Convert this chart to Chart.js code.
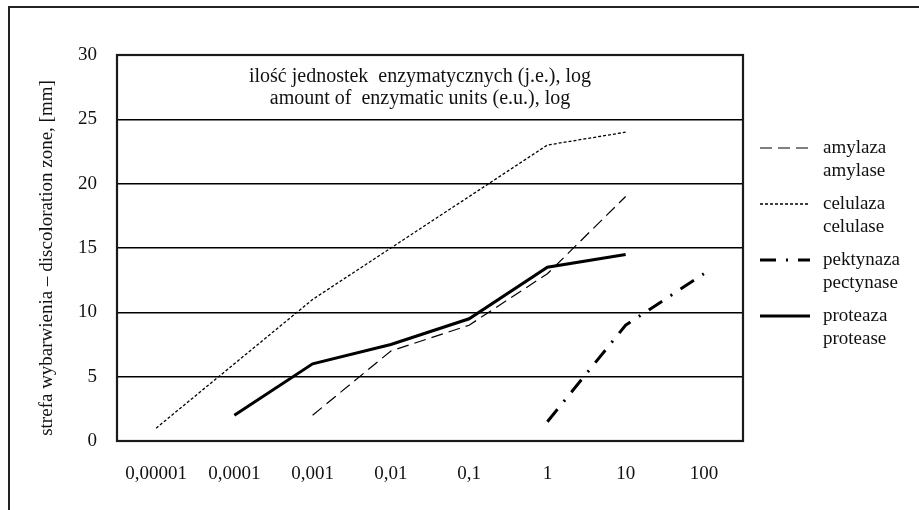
<!DOCTYPE html>
<html>
<head>
<meta charset="utf-8">
<script src="https://cdn.jsdelivr.net/npm/chart.js@4/dist/chart.umd.min.js"></script>
<style>
  html, body { margin: 0; padding: 0; background: #fff; }
  #wrap { width: 919px; height: 510px; position: relative; }
</style>
</head>
<body>
<div id="wrap"><canvas id="c" width="919" height="510"></canvas></div>
<script>
// Enzyme units (log scale shown as categories)
const categories = ['0,00001', '0,0001', '0,001', '0,01', '0,1', '1', '10', '100'];

// Discoloration zone [mm] per enzyme
const amylaza    = [null, null, 2, 7, 9, 13, 19, null];
const celulaza   = [1, 6, 11, 15, 19, 23, 24, null];
const pektynaza  = [null, null, null, null, null, 1.5, 9, 13];
const proteaza   = [null, 2, 6, 7.5, 9.5, 13.5, 14.5, null];

const yTicks = [0, 5, 10, 15, 20, 25, 30];

const legendLines = [
  ['amylaza', 'amylase'],
  ['celulaza', 'celulase'],
  ['pektynaza', 'pectynase'],
  ['proteaza', 'protease']
];
const titleLines = [
  'ilość jednostek  enzymatycznych (j.e.), log',
  'amount of  enzymatic units (e.u.), log'
];
const yTitle = 'strefa wybarwienia – discoloration zone, [mm]';

const FONT = '"Liberation Serif", "Times New Roman", serif';

const decor = {
  id: 'decor',
  beforeDraw(chart) {
    const ctx = chart.ctx;
    ctx.save();
    ctx.fillStyle = '#fff';
    ctx.fillRect(0, 0, chart.width, chart.height);
    // outer frame (top and left edges visible)
    ctx.strokeStyle = '#222';
    ctx.lineWidth = 2;
    ctx.beginPath();
    ctx.moveTo(9, 960);
    ctx.lineTo(9, 7);
    ctx.lineTo(960, 7);
    ctx.stroke();
    ctx.restore();
  },
  afterDatasetsDraw(chart) {
    const ctx = chart.ctx;
    const a = chart.chartArea;
    ctx.save();
    // plot frame
    ctx.strokeStyle = '#1a1a1a';
    ctx.lineWidth = 2.2;
    ctx.strokeRect(a.left, a.top, a.right - a.left, a.bottom - a.top);

    // inner title
    ctx.fillStyle = '#111';
    ctx.font = '20px ' + FONT;
    ctx.textAlign = 'center';
    ctx.textBaseline = 'middle';
    ctx.fillText(titleLines[0], 420, 77);
    ctx.fillText(titleLines[1], 420, 99);

    // y axis title
    ctx.font = '19px ' + FONT;
    ctx.save();
    ctx.translate(47, 258);
    ctx.rotate(-Math.PI / 2);
    ctx.fillText(yTitle, 0, 0);
    ctx.restore();

    // legend
    const rows = [148, 204, 260, 316];
    chart.data.datasets.forEach((ds, i) => {
      const y = rows[i];
      ctx.strokeStyle = ds.borderColor;
      ctx.lineWidth = ds.borderWidth;
      ctx.setLineDash(ds.borderDash || []);
      ctx.lineCap = 'butt';
      ctx.beginPath();
      ctx.moveTo(760, y);
      ctx.lineTo(810, y);
      ctx.stroke();
      ctx.setLineDash([]);
      ctx.textAlign = 'left';
      ctx.fillStyle = '#111';
      ctx.fillText(legendLines[i][0], 823, y);
      ctx.fillText(legendLines[i][1], 823, y + 23);
    });
    ctx.restore();
  }
};

const mk = (label, data, dash, width) => ({
  label,
  data,
  borderColor: '#000',
  backgroundColor: '#000',
  borderWidth: width,
  borderDash: dash,
  pointRadius: 0,
  pointHoverRadius: 0,
  tension: 0,
  fill: false
});

new Chart(document.getElementById('c'), {
  type: 'line',
  data: {
    labels: categories,
    datasets: [
      mk('amylaza amylase', amylaza, [12, 6], 1.2),
      mk('celulaza celulase', celulaza, [3, 2], 1.3),
      mk('pektynaza pectynase', pektynaza, [16, 10, 2, 10], 3),
      mk('proteaza protease', proteaza, [], 3)
    ]
  },
  options: {
    responsive: false,
    animation: false,
    layout: { padding: { left: 0, top: 55, right: 176, bottom: 0 } },
    plugins: {
      legend: { display: false },
      tooltip: { enabled: false },
      title: { display: false }
    },
    scales: {
      x: {
        type: 'category',
        offset: true,
        grid: { display: false, drawTicks: false },
        border: { display: false },
        ticks: {
          color: '#111',
          font: { family: FONT, size: 19 },
          padding: 22,
          maxRotation: 0,
          autoSkip: false
        },
        afterFit(s) { s.height = 69; }
      },
      y: {
        min: 0,
        max: 30,
        afterBuildTicks(s) { s.ticks = yTicks.map(v => ({ value: v })); },
        grid: { color: '#000', lineWidth: 1.4, drawTicks: false },
        border: { display: false },
        ticks: {
          color: '#111',
          font: { family: FONT, size: 19 },
          padding: 20
        },
        afterFit(s) { s.width = 117; }
      }
    }
  },
  plugins: [decor]
});
</script>
</body>
</html>
